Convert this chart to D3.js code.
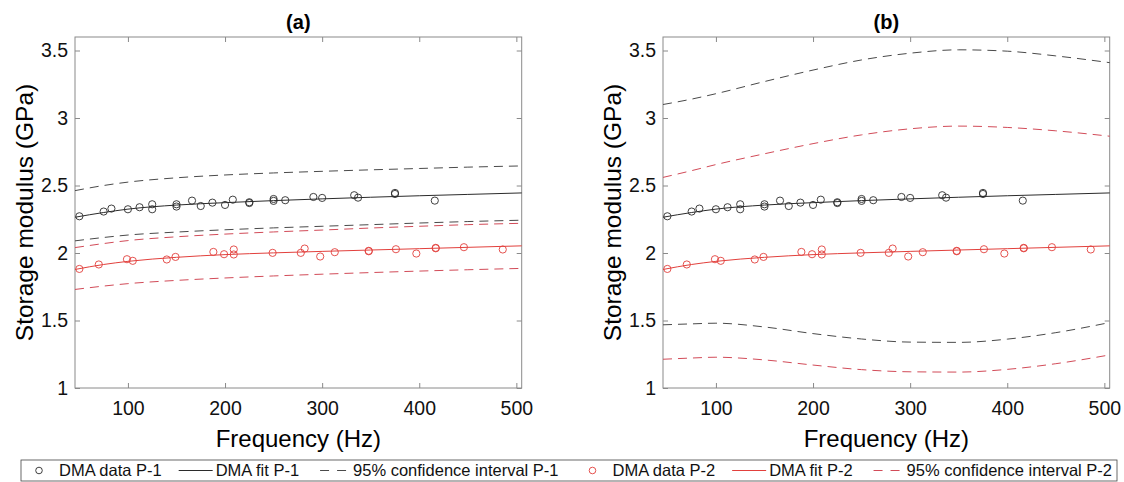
<!DOCTYPE html>
<html>
<head>
<meta charset="utf-8">
<script src="https://cdn.jsdelivr.net/npm/d3@7"></script>
<style>
body { margin: 0; background: #fff; }
text { font-family: "Liberation Sans", Arial, Helvetica, sans-serif; }
</style>
</head>
<body>
<svg id="chart" width="1124" height="482"></svg>
<script>
// measured DMA points
var p1Freq = [50, 75, 83, 100, 112, 125, 125, 150, 150, 166, 175, 187, 200, 208, 225, 225, 250, 250, 262, 291, 300, 333, 337, 375, 375, 416];
var p1Mod = [2.272, 2.307, 2.329, 2.324, 2.339, 2.361, 2.324, 2.361, 2.344, 2.388, 2.348, 2.373, 2.356, 2.395, 2.376, 2.370, 2.400, 2.386, 2.391, 2.415, 2.408, 2.428, 2.410, 2.445, 2.437, 2.388];
var p2Freq = [50, 70, 99, 105, 140, 149, 188, 199, 209, 209, 249, 278, 282, 298, 313, 348, 348, 376, 397, 417, 417, 446, 486];
var p2Mod = [1.882, 1.915, 1.954, 1.942, 1.952, 1.971, 2.008, 1.991, 2.026, 1.989, 2.001, 2.001, 2.033, 1.974, 2.006, 2.016, 2.013, 2.028, 1.996, 2.038, 2.035, 2.043, 2.026];

// fitted curves, sampled at fitFreq
var fitFreq = [45.5, 75, 100, 150, 200, 250, 300, 350, 400, 450, 505.5];
var p1Fit = [2.265, 2.300, 2.325, 2.355, 2.373, 2.388, 2.401, 2.413, 2.424, 2.434, 2.445];
var p2Fit = [1.878, 1.915, 1.938, 1.968, 1.988, 2.001, 2.012, 2.022, 2.032, 2.042, 2.053];

// (a) confidence bands
var aP1Upper = [2.462, 2.500, 2.525, 2.557, 2.578, 2.593, 2.605, 2.616, 2.626, 2.636, 2.645];
var aP1Lower = [2.090, 2.115, 2.133, 2.155, 2.172, 2.186, 2.198, 2.210, 2.222, 2.233, 2.243];
var aP2Upper = [2.040, 2.070, 2.092, 2.120, 2.140, 2.156, 2.170, 2.185, 2.198, 2.210, 2.220];
var aP2Lower = [1.730, 1.755, 1.773, 1.797, 1.815, 1.830, 1.843, 1.855, 1.866, 1.876, 1.886];

// (b) confidence bands
var bP1Upper = [3.100, 3.140, 3.180, 3.270, 3.355, 3.430, 3.480, 3.505, 3.495, 3.460, 3.410];
var bP1Lower = [1.468, 1.475, 1.480, 1.452, 1.403, 1.363, 1.340, 1.338, 1.362, 1.410, 1.485];
var bP2Upper = [2.560, 2.610, 2.655, 2.735, 2.810, 2.875, 2.920, 2.940, 2.930, 2.905, 2.865];
var bP2Lower = [1.213, 1.222, 1.228, 1.208, 1.170, 1.136, 1.120, 1.118, 1.138, 1.180, 1.245];

var freqTicks = [100, 200, 300, 400, 500];
var modTicks = [1, 1.5, 2, 2.5, 3, 3.5];
var legendLabels = ["DMA data P-1", "DMA fit P-1", "95% confidence interval P-1",
                    "DMA data P-2", "DMA fit P-2", "95% confidence interval P-2"];

var black = "#2b2b2b", blackDash = "#4a4a4a";
var red = "#e2403c", redDash = "#d24b58";
var axisGrey = "#8a8a8a";

var svg = d3.select("#chart");
var width = 446.7, height = 351, marginTop = 37;

var x = d3.scaleLinear().domain([45.5, 505.5]).range([0, width]);
var y = d3.scaleLinear().domain([1, 3.6]).range([height, 0]);

var line = d3.line()
    .x(function(d) { return x(d[0]); })
    .y(function(d) { return y(d[1]); })
    .curve(d3.curveMonotoneX);

function drawPanel(left, title, bands) {
    var g = svg.append("g").attr("transform", "translate(" + left + "," + marginTop + ")");

    g.append("g")
        .attr("transform", "translate(0," + height + ")")
        .call(d3.axisBottom(x).tickValues(freqTicks).tickSizeInner(-5).tickSizeOuter(0).tickPadding(13.5));
    g.append("g")
        .call(d3.axisTop(x).tickValues(freqTicks).tickSizeInner(-5).tickSizeOuter(0).tickFormat(""));
    g.append("g")
        .call(d3.axisLeft(y).tickValues(modTicks).tickSizeInner(-5).tickSizeOuter(0).tickPadding(7).tickFormat(d3.format("")));
    g.append("g")
        .attr("transform", "translate(" + width + ",0)")
        .call(d3.axisRight(y).tickValues(modTicks).tickSizeInner(-5).tickSizeOuter(0).tickFormat(""));

    g.selectAll(".domain").remove();
    g.selectAll(".tick line").attr("stroke", axisGrey);
    g.selectAll(".tick text").attr("fill", "#111").style("font-size", "19.5px")
        .style("font-family", "'Liberation Sans', Arial, sans-serif");

    g.append("rect")
        .attr("width", width).attr("height", height)
        .attr("fill", "none").attr("stroke", axisGrey).attr("stroke-width", 1);

    // confidence bands
    bands.forEach(function(b) {
        g.append("path")
            .datum(d3.zip(fitFreq, b.values))
            .attr("fill", "none")
            .attr("stroke", b.color)
            .attr("stroke-width", 1)
            .attr("stroke-dasharray", "9,6")
            .attr("d", line);
    });

    // fits
    [[p1Fit, black], [p2Fit, red]].forEach(function(f) {
        g.append("path")
            .datum(d3.zip(fitFreq, f[0]))
            .attr("fill", "none")
            .attr("stroke", f[1])
            .attr("stroke-width", 1)
            .attr("d", line);
    });

    // data points
    [[p1Freq, p1Mod, black], [p2Freq, p2Mod, red]].forEach(function(s) {
        g.append("g").selectAll("circle")
            .data(d3.zip(s[0], s[1]))
            .enter().append("circle")
            .attr("cx", function(d) { return x(d[0]); })
            .attr("cy", function(d) { return y(d[1]); })
            .attr("r", 3.6)
            .attr("fill", "none")
            .attr("stroke", s[2])
            .attr("stroke-width", 0.9);
    });

    g.append("text")
        .attr("x", width / 2).attr("y", -8)
        .attr("text-anchor", "middle")
        .style("font-size", "20px").style("font-weight", "bold")
        .text(title);

    g.append("text")
        .attr("x", width / 2).attr("y", height + 59)
        .attr("text-anchor", "middle")
        .style("font-size", "24px")
        .text("Frequency (Hz)");

    g.append("text")
        .attr("transform", "translate(" + (-51) + "," + (height / 2) + ") rotate(-90)")
        .attr("text-anchor", "middle")
        .attr("dy", "0.35em")
        .style("font-size", "24.5px")
        .text("Storage modulus (GPa)");
}

drawPanel(75, "(a)", [
    {values: aP1Upper, color: blackDash},
    {values: aP1Lower, color: blackDash},
    {values: aP2Upper, color: redDash},
    {values: aP2Lower, color: redDash}
]);
drawPanel(663, "(b)", [
    {values: bP1Upper, color: blackDash},
    {values: bP1Lower, color: blackDash},
    {values: bP2Upper, color: redDash},
    {values: bP2Lower, color: redDash}
]);

// legend
var boxLeft = 21, boxRight = 1117, boxTop = 460, boxBottom = 481;
svg.append("rect")
    .attr("x", boxLeft).attr("y", boxTop)
    .attr("width", boxRight - boxLeft).attr("height", boxBottom - boxTop)
    .attr("fill", "#fff").attr("stroke", "#444").attr("stroke-width", 0.8);

var kinds = ["marker", "line", "dash", "marker", "line", "dash"];
var colors = [black, black, blackDash, red, red, redDash];
var leg = svg.append("g");
var texts = leg.selectAll("text.lab")
    .data(legendLabels)
    .enter().append("text")
    .attr("class", "lab")
    .attr("y", boxTop + 16)
    .style("font-size", "16.5px")
    .attr("fill", "#111")
    .text(function(d) { return d; });

var widths = [];
texts.each(function() { widths.push(this.getComputedTextLength()); });
var symW = 37;
var total = d3.sum(widths) + symW * widths.length;
var gap = (boxRight - boxLeft - 6 - total) / (widths.length - 1);
var cursor = boxLeft + 1;
var cy = boxTop + 10.5;
texts.each(function(d, i) {
    var s = cursor;
    if (kinds[i] === "marker") {
        leg.append("circle").attr("cx", s + 17).attr("cy", cy).attr("r", 3.3)
            .attr("fill", "none").attr("stroke", colors[i]).attr("stroke-width", 0.9);
    } else if (kinds[i] === "line") {
        leg.append("line").attr("x1", s).attr("x2", s + 34).attr("y1", cy).attr("y2", cy)
            .attr("stroke", colors[i]).attr("stroke-width", 1);
    } else {
        leg.append("line").attr("x1", s + 4).attr("x2", s + 30).attr("y1", cy).attr("y2", cy)
            .attr("stroke", colors[i]).attr("stroke-width", 1).attr("stroke-dasharray", "9,8");
    }
    d3.select(this).attr("x", s + symW);
    cursor = s + symW + widths[i] + gap;
});
</script>
</body>
</html>
